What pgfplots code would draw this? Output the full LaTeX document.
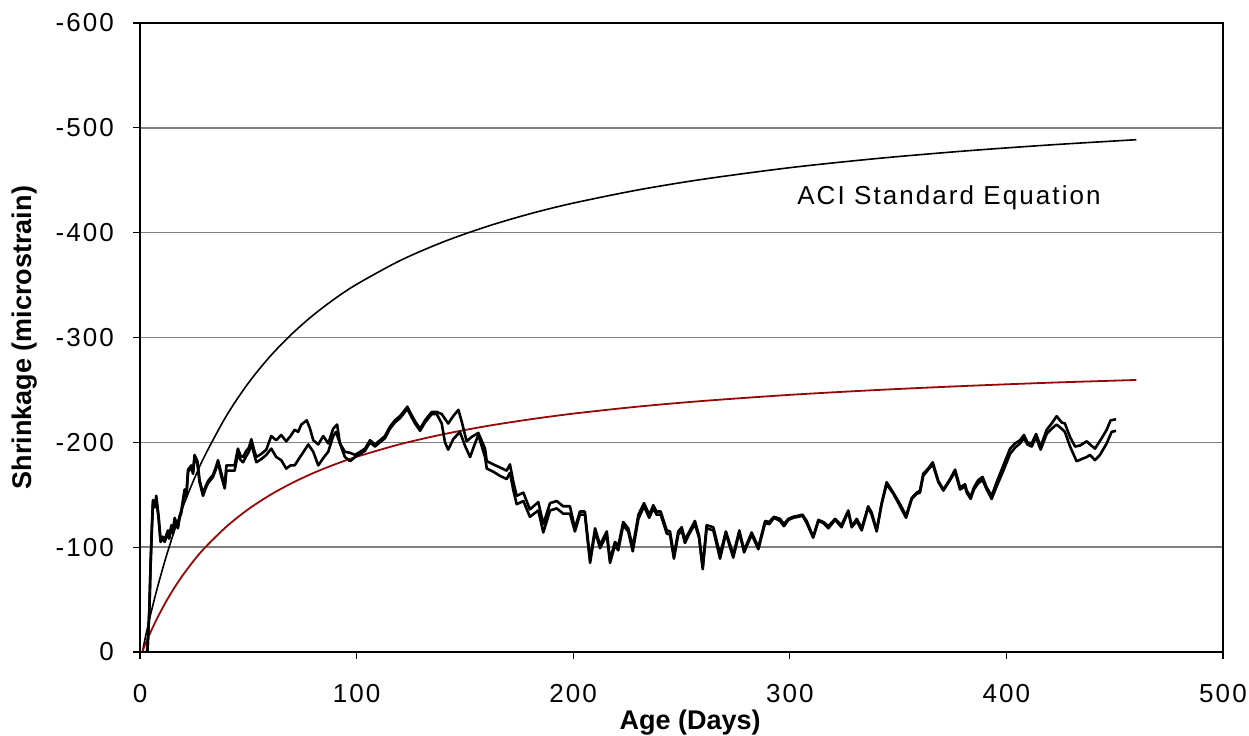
\documentclass[border=0pt]{standalone}
\usepackage{pgfplots}
\pgfplotsset{compat=1.18}
\usepackage{pgfplotstable}
\usepackage{fontspec}
\setmainfont{Liberation Sans}
\newfontfamily\spaced[LetterSpace=8]{Liberation Sans}
\definecolor{dred}{RGB}{150,8,8}

\pgfplotstableread{
d v
2.5 0
3.4 0
4.3 -40
4.9 -85
5.5 -120
6.0 -145
7.0 -140
7.5 -149
8.6 -129
9.5 -107
10.5 -110
11.4 -107
12.9 -116
13.5 -110
14.5 -121
15.2 -115
16.0 -128
17.0 -122
17.5 -120
18.3 -130
19.1 -135
20.6 -155
21.4 -150
22.2 -174
23.7 -178
24.5 -172
25.2 -188
26.5 -182
27.5 -164
29.1 -151
30.3 -158
31.4 -163
33.7 -169
35.0 -176
36.0 -183
37.5 -171
39.1 -158
39.9 -178
43.7 -178
45.2 -194
46.5 -187
47.6 -186
49.1 -192
50.3 -195
51.4 -203
52.5 -194
53.7 -186
56.0 -189
58.3 -193
60.6 -206
62.9 -202
65.2 -207
67.5 -201
69.5 -206
71.4 -212
73.0 -210
74.5 -217
77.0 -221
78.5 -213
80.0 -202
82.3 -198
84.6 -206
86.9 -199
89.2 -213
91.0 -217
92.3 -199
94.6 -191
97.0 -190
99.3 -188
101.6 -191
103.9 -194
106.2 -202
108.5 -198
110.8 -202
113.1 -206
115.4 -215
117.7 -221
120.0 -225
121.6 -229
123.4 -234
125.4 -226
127.0 -220
129.3 -213
131.6 -221
134.7 -229
137.0 -229
139.3 -227
142.3 -218
144.6 -225
147.0 -231
148.5 -220
150.8 -201
153.0 -205
156.2 -209
159.3 -194
160.1 -182
163.1 -179
166.2 -176
169.3 -173
170.8 -179
172.4 -162
173.9 -149
177.0 -152
180.0 -136
183.9 -143
186.2 -122
189.3 -142
192.4 -144
195.4 -139
198.5 -139
200.8 -118
203.1 -134
205.4 -134
207.8 -88
210.1 -118
212.4 -102
215.5 -115
217.0 -88
219.3 -105
220.8 -101
223.1 -124
225.4 -118
227.5 -100
230.1 -131
232.7 -142
235.1 -131
237.0 -140
238.5 -134
240.4 -134
243.2 -116
244.7 -115
246.5 -92
248.5 -115
250.1 -119
251.6 -107
253.9 -116
256.2 -125
258.1 -111
259.8 -81
261.6 -121
264.7 -119
267.8 -93
270.5 -115
273.9 -93
276.7 -116
278.9 -97
282.4 -114
285.5 -100
288.6 -125
290.5 -124
292.7 -129
295.5 -127
297.3 -122
299.3 -127
301.6 -129
303.9 -130
305.9 -131
307.8 -125
310.8 -110
313.2 -126
315.5 -124
317.8 -120
320.9 -127
323.9 -121
327.0 -135
328.6 -120
330.9 -127
333.2 -118
336.2 -139
337.8 -133
340.1 -116
342.4 -142
344.7 -162
347.8 -152
350.9 -141
353.7 -130
356.3 -147
358.6 -152
360.1 -154
361.6 -170
363.9 -175
366.0 -181
368.6 -163
370.9 -155
374.0 -165
376.3 -174
378.6 -157
380.9 -160
381.7 -154
383.5 -148
385.0 -157
387.0 -164
389.0 -167
390.9 -157
393.2 -149
395.5 -162
398.6 -178
401.7 -194
404.0 -199
406.3 -202
408.1 -207
409.7 -200
411.7 -199
413.7 -208
415.8 -196
418.6 -212
420.9 -218
423.2 -225
425.5 -219
427.0 -218
429.4 -205
431.7 -196
434.0 -197
437.1 -201
438.6 -198
440.9 -194
444.0 -204
446.3 -212
448.1 -221
450.6 -222
}\seriesA

\pgfplotstableread{
d v
2.5 0
3.4 0
4.3 -38
4.9 -83
5.5 -118
6.0 -143
7.0 -138
7.5 -147
8.6 -127
9.5 -105
10.5 -108
11.4 -105
12.9 -114
13.5 -108
14.5 -119
15.2 -113
16.0 -126
17.0 -120
17.5 -118
18.3 -128
19.1 -133
20.6 -153
21.4 -148
22.2 -172
23.7 -176
24.5 -170
25.2 -186
26.5 -180
27.5 -162
29.1 -149
30.3 -156
31.4 -161
33.7 -167
35.0 -174
36.0 -181
37.5 -168
39.1 -156
39.9 -173
43.7 -173
45.2 -189
46.5 -183
47.6 -181
49.1 -187
50.3 -191
51.4 -199
52.5 -190
53.7 -181
56.0 -184
58.3 -188
60.6 -194
62.9 -186
65.2 -183
67.5 -175
69.5 -178
71.4 -178
73.9 -186
75.5 -191
77.7 -198
80.0 -191
82.3 -178
84.6 -185
86.9 -191
89.2 -206
90.5 -210
92.3 -199
94.6 -186
97.0 -182
99.3 -186
101.6 -189
103.9 -192
106.2 -200
108.5 -196
110.8 -200
113.1 -204
115.4 -213
117.7 -219
120.0 -223
121.6 -227
123.4 -232
125.4 -224
127.0 -218
129.3 -211
131.6 -219
134.7 -227
137.0 -227
139.3 -218
140.8 -200
142.3 -193
144.6 -203
147.7 -210
150.0 -197
152.4 -186
154.5 -198
156.2 -207
159.3 -186
160.1 -175
163.1 -172
166.2 -168
169.3 -165
170.8 -171
172.4 -154
173.9 -141
177.0 -144
180.0 -129
183.9 -135
186.2 -114
189.3 -135
192.4 -137
195.4 -132
198.5 -132
200.8 -115
203.1 -131
205.4 -131
207.8 -85
210.1 -115
212.4 -99
215.5 -112
217.0 -85
219.3 -102
220.8 -97
223.1 -121
225.4 -115
227.5 -96
230.1 -127
232.7 -139
235.1 -128
237.0 -137
238.5 -131
240.4 -131
243.2 -113
244.7 -112
246.5 -89
248.5 -112
250.1 -116
251.6 -104
253.9 -114
256.2 -122
258.1 -109
259.8 -79
261.6 -118
264.7 -116
267.8 -89
270.5 -113
273.9 -90
276.7 -114
278.9 -95
282.4 -112
285.5 -98
288.6 -123
290.5 -122
292.7 -128
295.5 -125
297.3 -120
299.3 -126
301.6 -128
303.9 -129
305.9 -130
307.8 -123
310.8 -109
313.2 -125
315.5 -123
317.8 -118
320.9 -126
323.9 -119
327.0 -134
328.6 -119
330.9 -125
333.2 -116
336.2 -138
337.8 -131
340.1 -115
342.4 -141
344.7 -160
347.8 -151
350.9 -139
353.7 -128
356.3 -146
358.6 -151
360.1 -152
361.6 -168
363.9 -174
366.0 -179
368.6 -162
370.9 -154
374.0 -164
376.3 -172
378.6 -155
380.9 -158
381.7 -152
383.5 -146
385.0 -155
387.0 -161
389.0 -164
390.9 -155
393.2 -146
395.5 -158
398.6 -173
401.7 -189
404.0 -195
406.3 -199
408.1 -204
409.7 -198
411.7 -196
413.7 -205
415.8 -193
418.6 -208
420.9 -213
423.2 -217
425.5 -213
427.0 -210
429.4 -196
432.4 -182
434.7 -184
437.1 -186
438.6 -188
440.9 -183
443.2 -188
446.3 -199
448.6 -210
450.6 -211
}\seriesB

\pgfplotstableread{
d v
1.2 -1
3 -19
5 -36.7
8 -61.2
12 -90.4
16 -116.3
20 -139.4
25 -165.0
30 -187.6
40 -225.7
50 -256.5
60 -281.9
70 -303.2
80 -321.4
90 -337.1
100 -350.7
120 -373.3
140 -391.2
160 -405.8
180 -418.0
200 -428.2
230 -440.8
260 -451.0
300 -462.0
340 -470.7
380 -477.8
420 -483.7
460 -488.7
}\aci

\pgfplotstableread{
d v
1.2 -1
3 -10.1
5 -19.5
8 -32.5
12 -48.0
16 -61.7
20 -74.0
25 -87.6
30 -99.6
40 -119.8
50 -136.2
60 -149.7
70 -161.0
80 -170.7
90 -179.0
100 -186.2
120 -198.2
140 -207.7
160 -215.5
180 -221.9
200 -227.4
230 -234.1
260 -239.5
300 -245.3
340 -249.9
380 -253.7
420 -256.9
460 -259.5
}\modified

\begin{document}
\begin{tikzpicture}
\begin{axis}[
  scale only axis,
  width=541.5pt, height=314.5pt,
  at={(0,0)}, anchor=south west,
  xmin=0, xmax=500, ymin=-600, ymax=0,
  y dir=reverse,
  xtick={0,100,200,300,400,500},
  xticklabels={0,100,200,300,400,500},
  ytick={-600,-500,-400,-300,-200,-100,0},
  yticklabels={-600,-500,-400,-300,-200,-100,0},
  xtick pos=bottom, ytick pos=left,
  tick align=outside, major tick length=3.5pt,
  ymajorgrids,
  grid style={draw={rgb,255:red,128;green,128;blue,128}, line width=0.7pt},
  axis line style={black, line width=0.7pt},
  tick style={black, line width=0.6pt},
  ticklabel style={font=\spaced\fontsize{13}{15}\selectfont},
  xticklabel style={yshift=-9pt},
  yticklabel style={xshift=-6pt},
  xlabel={Age (Days)},
  ylabel={Shrinkage (microstrain)},
  xlabel style={font=\bfseries\fontsize{13.5}{16}\selectfont, at={(axis description cs:0.508,-0.112)}, anchor=center},
  ylabel style={font=\bfseries\fontsize{13.5}{16}\selectfont, at={(axis description cs:-0.107,0.5)}, anchor=center},
  clip=true,
]
\addplot[smooth, black, line width=0.8pt] table[x=d, y=v] {\aci};
\addplot[smooth, dred, line width=0.9pt] table[x=d, y=v] {\modified};
\addplot[black, line width=1.3pt, line join=round] table[x=d, y=v] {\seriesA};
\addplot[black, line width=1.3pt, line join=round] table[x=d, y=v] {\seriesB};
\node[font=\spaced\fontsize{13}{15}\selectfont, anchor=center] at (axis cs:373.5,-433) {ACI Standard Equation};
\end{axis}
\pgfresetboundingbox
\path[use as bounding box] (-70pt,-41.5pt) rectangle (554.5pt,326pt);
\end{tikzpicture}
\end{document}
